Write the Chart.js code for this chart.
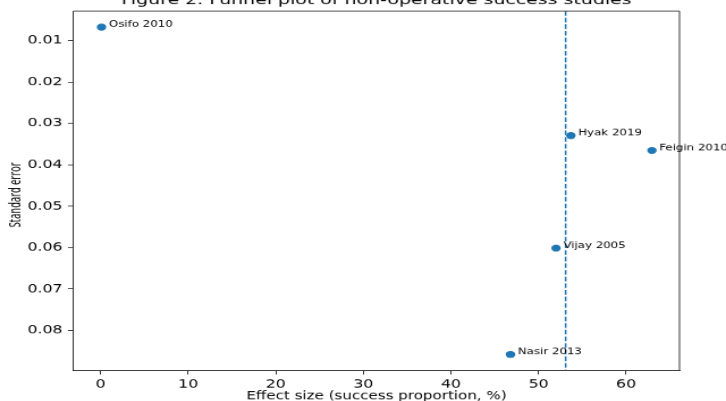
<!DOCTYPE html>
<html>
<head>
<meta charset="utf-8">
<script src="https://cdn.jsdelivr.net/npm/chart.js@4"></script>
<style>
  html, body { margin: 0; padding: 0; background: #fff; overflow: hidden; }
  #wrap { width: 726px; height: 401px; overflow: hidden; position: relative; }
  #stage { width: 640px; height: 480px; transform: scale(1.134375, 0.8354167); transform-origin: 0 0; position: absolute; left: 0; top: 0; }
  canvas { display: block; }
</style>
</head>
<body>
<div id="wrap"><div id="stage"><canvas id="c" width="640" height="480"></canvas></div></div>
<script>
// ---- data ----
const studies = ['Osifo 2010', 'Hyak 2019', 'Feigin 2010', 'Vijay 2005', 'Nasir 2013'];
const effectSize = [0.1, 53.7, 62.95, 52.0, 46.8];          // success proportion, %
const standardError = [0.0067, 0.0329, 0.0365, 0.0601, 0.0858];
const pooledEffect = 53.1;                                 // dashed vertical line
const xTicks = [0, 10, 20, 30, 40, 50, 60];
const yTicks = [0.01, 0.02, 0.03, 0.04, 0.05, 0.06, 0.07, 0.08];
const xLimits = [-3.1, 66.1];
const yLimits = [0.0028, 0.0897];
const titleText = 'Figure 2. Funnel plot of non-operative success studies';
const xLabelText = 'Effect size (success proportion, %)';
const yLabelText = 'Standard error';

const BLUE = '#1f77b4';
const FONT = '"DejaVu Sans", sans-serif';

const points = studies.map((s, i) => ({ x: effectSize[i], y: standardError[i], label: s }));

const decorPlugin = {
  id: 'decor',
  afterDraw(chart) {
    const ctx = chart.ctx;
    const a = chart.chartArea;
    const xs = chart.scales.x, ys = chart.scales.y;
    ctx.save();
    // top and right spines
    ctx.strokeStyle = '#000';
    ctx.lineWidth = 0.8;
    ctx.beginPath();
    ctx.moveTo(a.left, a.top); ctx.lineTo(a.right, a.top); ctx.lineTo(a.right, a.bottom);
    ctx.stroke();
    // annotations
    ctx.fillStyle = '#000';
    ctx.font = '10.4px ' + FONT;
    ctx.textAlign = 'left';
    ctx.textBaseline = 'alphabetic';
    points.forEach(p => {
      const px = xs.getPixelForValue(p.x);
      const py = ys.getPixelForValue(p.y);
      ctx.fillText(p.label, px + 6.5, py - 0.3);
    });
    // title
    ctx.font = '16.7px ' + FONT;
    ctx.textAlign = 'center';
    ctx.fillText(titleText, (a.left + a.right) / 2, 4.5);
    // x label
    ctx.font = '13.3px ' + FONT;
    ctx.fillText(xLabelText, (a.left + a.right) / 2, 478);
    // y label (narrow)
    ctx.font = '14px "Noto Sans", sans-serif';
    const w = ctx.measureText(yLabelText).width;
    const target = 78;
    ctx.translate(14.5, (a.top + a.bottom) / 2 + 5);
    ctx.rotate(-Math.PI / 2);
    ctx.scale(target / w, 1);
    ctx.textBaseline = 'middle';
    ctx.fillText(yLabelText, 0, 0);
    ctx.restore();
  }
};

new Chart(document.getElementById('c'), {
  type: 'scatter',
  data: {
    datasets: [
      {
        label: 'studies',
        data: points,
        backgroundColor: BLUE,
        borderColor: BLUE,
        borderWidth: 0,
        pointRadius: 4.17,
        pointHoverRadius: 4.17
      },
      {
        type: 'line',
        label: 'pooled',
        data: [{ x: pooledEffect, y: yLimits[0] }, { x: pooledEffect, y: yLimits[1] }],
        borderColor: BLUE,
        borderWidth: 1.5,
        borderDash: [5.55, 2.4],
        pointRadius: 0,
        fill: false
      }
    ]
  },
  options: {
    responsive: false,
    animation: false,
    devicePixelRatio: 1,
    events: [],
    layout: { padding: { top: 10.8, right: 41, left: 0, bottom: 0 } },
    plugins: { legend: { display: false }, tooltip: { enabled: false }, title: { display: false } },
    scales: {
      x: {
        type: 'linear',
        min: xLimits[0], max: xLimits[1],
        afterBuildTicks: s => { s.ticks = xTicks.map(v => ({ value: v })); },
        afterFit: s => { s.height = 36.5; },
        ticks: { color: '#000', font: { family: FONT, size: 13.9 }, padding: 3.5, maxRotation: 0, callback: v => String(v) },
        grid: { drawOnChartArea: false, drawTicks: true, tickLength: 4.86, color: '#000', lineWidth: 0.8 },
        border: { display: true, color: '#000', width: 0.8 }
      },
      y: {
        type: 'linear',
        reverse: true,
        min: yLimits[0], max: yLimits[1],
        afterBuildTicks: s => { s.ticks = yTicks.map(v => ({ value: v })); },
        afterFit: s => { s.width = 64.8; },
        ticks: { color: '#000', font: { family: FONT, size: 13.9 }, padding: 4.86, callback: v => Number(v).toFixed(2) },
        grid: { drawOnChartArea: false, drawTicks: true, tickLength: 4.86, color: '#000', lineWidth: 0.8 },
        border: { display: true, color: '#000', width: 0.8 }
      }
    }
  },
  plugins: [decorPlugin]
});
</script>
</body>
</html>
